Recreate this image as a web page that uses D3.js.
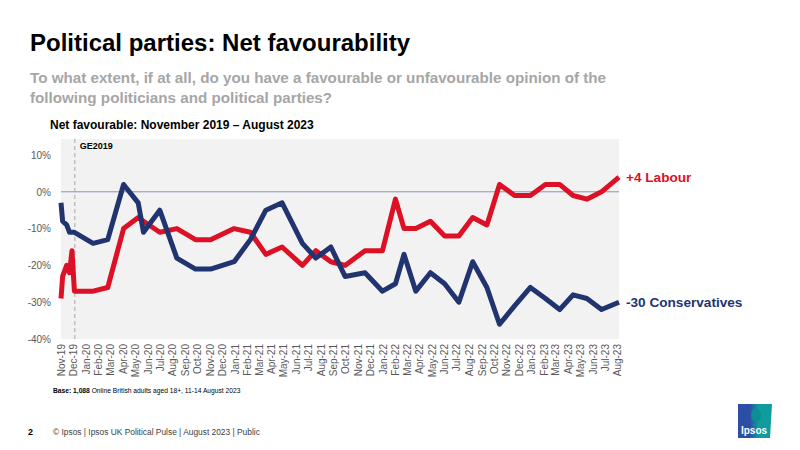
<!DOCTYPE html>
<head>
  <meta charset="utf-8">
  <style>
    body { margin: 0; background: #fff; }
    text { font-family: "Liberation Sans", Arial, sans-serif; }
    .axis path, .axis line { display: none; }
    .axis text { font-size: 10px; fill: #595959; }
  </style>
  <script src="https://d3js.org/d3.v7.min.js"></script>
</head>
<body>
<script>
  // poll dates (fieldwork mid-points)
  const pollDates = [
    '2019-11-08', '2019-11-12', '2019-11-22', '2019-11-29', '2019-12-05', '2019-12-11',
    '2020-01-26', '2020-03-02', '2020-04-10', '2020-05-16', '2020-05-29', '2020-07-08',
    '2020-08-19', '2020-10-04', '2020-11-10', '2021-01-07', '2021-02-16', '2021-03-26',
    '2021-05-05', '2021-06-24', '2021-07-27', '2021-09-02', '2021-10-07', '2021-11-25',
    '2022-01-07', '2022-02-08', '2022-03-01', '2022-03-30', '2022-05-05', '2022-06-09',
    '2022-07-14', '2022-08-17', '2022-09-21', '2022-10-22', '2022-11-28', '2023-01-06',
    '2023-02-12', '2023-03-19', '2023-04-21', '2023-05-25', '2023-06-30', '2023-08-12'
  ];
  const labour = [
    -29, -23, -20, -22, -16, -27,
    -27, -26, -10, -7, -8, -11,
    -10, -13, -13, -10, -11, -17,
    -15, -20, -16, -19, -20, -16,
    -16, -2, -10, -10, -8, -12,
    -12, -7, -9, 2, -1, -1,
    2, 2, -1, -2, 0, 4
  ];
  const conservatives = [
    -3, -8, -9, -11, -11, -11,
    -14, -13, 2, -3, -11, -5,
    -18, -21, -21, -19, -13, -5,
    -3, -14, -18, -15, -23, -22,
    -27, -25, -17, -27, -22, -25,
    -30, -19, -26, -36, -31, -26,
    -29, -32, -28, -29, -32, -30
  ];
  const yTicks = [10, 0, -10, -20, -30, -40];
  const geDate = '2019-12-12';

  const parseDate = d3.timeParse('%Y-%m-%d');
  const formatMonth = d3.timeFormat('%b-%y');
  const dates = pollDates.map(parseDate);

  const w = 800, h = 450;
  const plot = { left: 61, right: 619, top: 139, bottom: 339 };

  const svg = d3.select('body').append('svg')
    .attr('width', w)
    .attr('height', h);

  const xScale = d3.scaleTime()
    .domain([dates[0], dates[dates.length - 1]])
    .range([plot.left, plot.right]);

  const yScale = d3.scaleLinear()
    .domain([-40, 10])
    .range([339, 155]);

  // titles
  svg.append('text')
    .attr('x', 30).attr('y', 51)
    .attr('font-size', 24).attr('font-weight', 'bold').attr('fill', '#000')
    .text('Political parties: Net favourability');

  const sub = svg.append('text')
    .attr('font-size', 15.2).attr('font-weight', 'bold').attr('fill', '#a6a6a6');
  sub.append('tspan').attr('x', 30).attr('y', 83)
    .text('To what extent, if at all, do you have a favourable or unfavourable opinion of the');
  sub.append('tspan').attr('x', 30).attr('y', 103)
    .text('following politicians and political parties?');

  svg.append('text')
    .attr('x', 50).attr('y', 129)
    .attr('font-size', 12).attr('font-weight', 'bold').attr('fill', '#000')
    .text('Net favourable: November 2019 \u2013 August 2023');

  // plot background
  svg.append('rect')
    .attr('x', plot.left).attr('y', plot.top)
    .attr('width', plot.right - plot.left)
    .attr('height', plot.bottom - plot.top)
    .attr('fill', '#f2f2f2');

  // zero line
  svg.append('line')
    .attr('x1', plot.left).attr('x2', plot.right)
    .attr('y1', yScale(0)).attr('y2', yScale(0))
    .attr('stroke', '#8593b3').attr('stroke-width', 1);

  // general election marker
  const geX = xScale(parseDate(geDate));
  svg.append('line')
    .attr('x1', geX).attr('x2', geX)
    .attr('y1', plot.top).attr('y2', plot.bottom)
    .attr('stroke', '#a6a6a6').attr('stroke-width', 1)
    .attr('stroke-dasharray', '4,3');

  svg.append('text')
    .attr('x', geX + 5).attr('y', 149)
    .attr('font-size', 9).attr('font-weight', 'bold').attr('fill', '#000')
    .text('GE2019');

  // axes
  const monthTicks = d3.range(0, 46).map(i => d3.timeMonth.offset(dates[0], i));

  svg.append('g')
    .attr('class', 'x axis')
    .attr('transform', `translate(0, ${plot.bottom})`)
    .call(d3.axisBottom(xScale).tickValues(monthTicks).tickFormat(formatMonth).tickSize(0))
    .selectAll('text')
      .attr('transform', 'rotate(-90)')
      .attr('text-anchor', 'end')
      .attr('x', -5)
      .attr('y', 0)
      .attr('dy', '0.35em');

  svg.append('g')
    .attr('class', 'y axis')
    .attr('transform', `translate(${plot.left - 7}, 0)`)
    .call(d3.axisLeft(yScale).tickValues(yTicks).tickFormat(d => d + '%').tickSize(0));

  // lines
  const series = [
    { name: 'Labour', values: labour, color: '#dd1125' },
    { name: 'Conservatives', values: conservatives, color: '#22346f' }
  ];

  const line = d3.line()
    .x((d, i) => xScale(dates[i]))
    .y(d => yScale(d));

  svg.selectAll('.series')
    .data(series)
    .enter()
    .append('path')
    .attr('class', 'series')
    .attr('d', d => line(d.values))
    .attr('fill', 'none')
    .attr('stroke', d => d.color)
    .attr('stroke-width', 5)
    .attr('stroke-linejoin', 'round');

  // end labels
  svg.selectAll('.end-label')
    .data(series)
    .enter()
    .append('text')
    .attr('class', 'end-label')
    .attr('x', 626)
    .attr('y', d => yScale(d.values[d.values.length - 1]) + 5)
    .attr('font-size', 13.6).attr('font-weight', 'bold')
    .attr('fill', d => d.color)
    .text(d => {
      const v = d.values[d.values.length - 1];
      return (v > 0 ? '+' : '') + v + ' ' + d.name;
    });

  // base note
  const base = svg.append('text')
    .attr('x', 53).attr('y', 393)
    .attr('font-size', 6.7).attr('fill', '#000');
  base.append('tspan').attr('font-weight', 'bold').text('Base: 1,088');
  base.append('tspan').text(' Online British adults aged 18+, 11-14 August 2023');

  // footer
  svg.append('text')
    .attr('x', 28).attr('y', 435)
    .attr('font-size', 9).attr('font-weight', 'bold').attr('fill', '#000')
    .text('2');

  svg.append('text')
    .attr('x', 53).attr('y', 435)
    .attr('font-size', 8.4).attr('fill', '#404040')
    .text('\u00a9 Ipsos |  Ipsos UK Political Pulse | August 2023 | Public');

  // logo
  const grad = svg.append('defs').append('linearGradient')
    .attr('id', 'logo-grad')
    .attr('x1', '0').attr('x2', '1').attr('y1', '0').attr('y2', '0');
  grad.append('stop').attr('offset', '0.35').attr('stop-color', '#2c4ea6');
  grad.append('stop').attr('offset', '0.6').attr('stop-color', '#0e9c9c');

  const logo = svg.append('g').attr('transform', 'translate(738, 404)');
  logo.append('path')
    .attr('d', 'M0,0 H34 L32,34 H0 Z')
    .attr('fill', 'url(#logo-grad)');
  logo.append('ellipse')
    .attr('cx', 18).attr('cy', 11).attr('rx', 5).attr('ry', 7)
    .attr('fill', '#0b8f95');
  logo.append('text')
    .attr('x', 16).attr('y', 30)
    .attr('text-anchor', 'middle')
    .attr('font-size', 10).attr('font-weight', 'bold').attr('fill', '#fff')
    .text('Ipsos');
</script>
</body>
